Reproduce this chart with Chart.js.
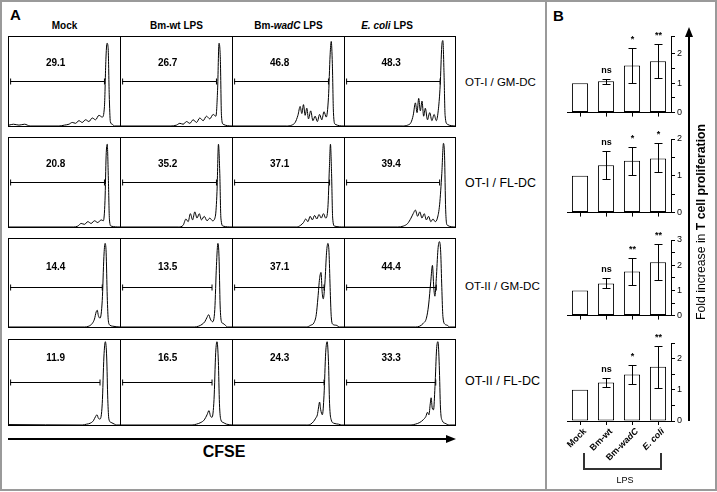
<!DOCTYPE html>
<html>
<head>
<meta charset="utf-8">
<script src="https://cdn.jsdelivr.net/npm/chart.js@4.4.0/dist/chart.umd.min.js"></script>
<style>
body { margin: 0; background: #fff; }
#fig { position: relative; width: 717px; height: 492px; font-family: Arial, "Liberation Sans", sans-serif; color: #000; overflow: hidden; background: #fff; }
#fig div, #fig canvas { position: absolute; }
.frame { left: 0; top: 0; width: 717px; height: 491px; border: 2px solid #9a9a9a; box-sizing: border-box; }
.divider { left: 545px; top: 0; width: 2px; height: 491px; background: #9a9a9a; }
.letter { font-weight: bold; font-size: 15px; }
.colhead { font-weight: bold; font-size: 10px; transform: translate(-50%, -50%); white-space: nowrap; }
.rowlab { font-size: 11px; transform: translateY(-50%); white-space: nowrap; }
.rowbox { border: 1px solid #000; box-sizing: border-box; }
.vsep { width: 1px; background: #000; }
</style>
</head>
<body>
<div id="fig">
  <div class="frame"></div>
  <div class="divider"></div>
  <div class="letter" style="left:10px;top:6px;">A</div>
  <div class="letter" style="left:553px;top:7px;">B</div>
</div>
<script>
// ---- panel A : CFSE histograms ----
const colLabels = ['Mock', 'Bm-wt LPS', 'Bm-<i>wadC</i> LPS', '<i>E. coli</i> LPS'];
const rowLabels = ['OT-I / GM-DC', 'OT-I / FL-DC', 'OT-II / GM-DC', 'OT-II / FL-DC'];

const gatePct = [
    [29.1, 26.7, 46.8, 48.3],
    [20.8, 35.2, 37.1, 39.4],
    [14.4, 13.5, 37.1, 44.4],
    [11.9, 16.5, 24.3, 33.3]
];
const gateEnd = [
    [86, 86, 86, 86.5],
    [86, 86, 87, 86],
    [84, 82, 82, 83],
    [82, 82, 82, 82.5]
];
const gateLevel = [0.51, 0.51, 0.45, 0.51];

// [CFSE position 0-100, relative count]
const histMock1 = [[0,0.01],[4,0.02],[9,0.01],[14,0.02],[19,0],[45,0],[50,0.01],[54,0.02],[57,0.04],[60,0.03],[63,0.06],[66,0.04],[69,0.07],[72,0.05],[75,0.09],[78,0.07],[81,0.12],[84,0.1],[86,0.22],[87.3,0.75],[88.3,0.93],[89.3,0.88],[90.3,0.35],[91.3,0.05],[93,0.02],[95,0],[100,0]];
const histWt1 = [[0,0],[45,0],[50,0.01],[53,0.03],[56,0.02],[59,0.05],[62,0.03],[65,0.07],[68,0.04],[71,0.09],[74,0.06],[77,0.11],[80,0.08],[83,0.13],[85.5,0.11],[87,0.4],[88.3,0.93],[89.5,0.75],[90.5,0.12],[92,0.02],[100,0]];
const histWadC1 = [[0,0],[48,0],[53,0.01],[56,0.04],[58.5,0.12],[60.5,0.22],[62,0.14],[63.5,0.24],[65,0.12],[66.5,0.2],[68,0.08],[70,0.17],[72,0.06],[74,0.11],[76,0.05],[78,0.13],[80,0.07],[82,0.16],[84,0.1],[86,0.32],[87.5,0.8],[88.5,0.95],[89.5,0.7],[90.5,0.15],[92,0.02],[100,0]];
const histEcoli1 = [[0,0],[52,0],[57,0.01],[60,0.04],[62,0.12],[64,0.26],[65.5,0.15],[67,0.31],[68.5,0.17],[70,0.28],[71.5,0.11],[73,0.2],[75,0.07],[77,0.15],[79,0.06],[81,0.13],[83,0.06],[85,0.2],[86.5,0.45],[88,0.9],[89,0.96],[90,0.6],[91,0.12],[93,0.02],[100,0]];

const histMock2 = [[0,0],[58,0],[62,0.01],[65,0.04],[68,0.03],[71,0.06],[74,0.04],[77,0.07],[80,0.05],[83,0.08],[85,0.07],[86.5,0.3],[87.5,0.8],[88.5,0.93],[89.5,0.55],[90.5,0.08],[92,0.01],[100,0]];
const histWt2 = [[0,0],[52,0],[56,0.02],[58.5,0.09],[60.5,0.06],[62.5,0.15],[64.5,0.08],[66.5,0.17],[68.5,0.1],[70.5,0.15],[72.5,0.08],[75,0.12],[77.5,0.07],[80,0.1],[82.5,0.07],[85,0.12],[86.5,0.4],[87.8,0.93],[89,0.6],[90,0.1],[92,0.01],[100,0]];
const histWadC2 = [[0,0],[57,0],[61,0.02],[63.5,0.05],[65.5,0.09],[67.5,0.06],[69.5,0.12],[71.5,0.08],[73.5,0.13],[75.5,0.09],[77.5,0.14],[79.5,0.1],[81.5,0.15],[83.5,0.1],[85.5,0.22],[86.8,0.65],[87.8,0.93],[88.8,0.6],[89.8,0.1],[91.5,0.01],[100,0]];
const histEcoli2 = [[0,0],[48,0],[53,0.01],[57,0.04],[60,0.1],[62,0.15],[64,0.19],[66,0.12],[68,0.17],[70,0.1],[72,0.15],[74,0.08],[76,0.12],[78,0.06],[80,0.09],[82,0.06],[84,0.1],[86,0.25],[88,0.6],[89.5,0.94],[90.5,0.8],[91.5,0.2],[93,0.02],[100,0]];

const histMock3 = [[0,0],[68,0],[72,0.01],[75,0.04],[77,0.09],[78.5,0.17],[79.5,0.19],[80.5,0.13],[82,0.1],[84,0.3],[85.5,0.8],[86.5,0.95],[87.5,0.85],[88.5,0.35],[89.5,0.07],[91,0.02],[93,0.01],[100,0]];
const histWt3 = [[0,0],[66,0],[70,0.01],[73,0.03],[75.5,0.06],[77.5,0.11],[79,0.14],[80.5,0.09],[82.5,0.06],[84.5,0.2],[86,0.7],[87.3,0.95],[88.3,0.8],[89.3,0.25],[90.5,0.06],[92,0.04],[94,0.02],[96,0],[100,0]];
const histWadC3 = [[0,0],[66,0],[70,0.02],[73,0.05],[75,0.14],[76.5,0.33],[78,0.55],[79.3,0.62],[80.3,0.4],[81.3,0.32],[82.8,0.5],[84.3,0.85],[85.5,0.95],[86.5,0.85],[87.5,0.45],[88.5,0.12],[90,0.03],[93,0.02],[96,0],[100,0]];
const histEcoli3 = [[0,0],[64,0],[68,0.01],[71,0.04],[74,0.1],[76,0.25],[78,0.52],[79.5,0.7],[80.7,0.45],[81.7,0.35],[83,0.55],[84.5,0.88],[85.8,0.97],[87,0.85],[88,0.45],[89,0.12],[91,0.03],[93,0.02],[95,0],[100,0]];

const histMock4 = [[0,0.005],[66,0],[70,0.01],[73,0.02],[76,0.05],[78,0.1],[79.3,0.12],[80.5,0.08],[82,0.07],[84,0.25],[85.5,0.8],[86.8,0.98],[88,0.8],[89,0.3],[90,0.07],[92,0.03],[95,0.01],[97,0],[100,0]];
const histWt4 = [[0,0],[64,0],[68,0.01],[72,0.03],[75,0.06],[77.5,0.12],[79.3,0.17],[80.5,0.11],[82,0.09],[83.8,0.3],[85.3,0.85],[86.5,0.98],[87.7,0.75],[88.7,0.25],[90,0.06],[92,0.03],[95,0.01],[100,0]];
const histWadC4 = [[0,0],[66,0],[70,0.01],[72.5,0.04],[74.5,0.08],[76,0.12],[77,0.2],[78,0.27],[79,0.18],[80.5,0.12],[82,0.35],[83.5,0.85],[84.8,0.98],[86,0.75],[87,0.25],[88.5,0.06],[91,0.02],[95,0.01],[98,0],[100,0]];
const histEcoli4 = [[0,0],[60,0],[64,0.01],[68,0.03],[71,0.06],[73.5,0.1],[75,0.15],[76.3,0.12],[77.5,0.25],[78.3,0.32],[79.3,0.2],[80.5,0.18],[81.8,0.45],[83.3,0.9],[84.5,0.98],[85.7,0.7],[86.8,0.2],[88.5,0.05],[91,0.02],[95,0],[100,0]];

const histRows = [
    [histMock1, histWt1, histWadC1, histEcoli1],
    [histMock2, histWt2, histWadC2, histEcoli2],
    [histMock3, histWt3, histWadC3, histEcoli3],
    [histMock4, histWt4, histWadC4, histEcoli4]
];

// ---- panel B : fold increase ----
const barCats = ['Mock', 'Bm-wt', 'Bm-wadC', 'E. coli'];
const foldOT1GM = [1.0, 1.06, 1.6, 1.74];
const errLoOT1GM = [null, 0.97, 1.0, 1.17];
const errHiOT1GM = [null, 1.15, 2.2, 2.32];
const sigOT1GM = ['', 'ns', '*', '**'];

const foldOT1FL = [1.0, 1.29, 1.41, 1.47];
const errLoOT1FL = [null, 0.9, 1.03, 1.11];
const errHiOT1FL = [null, 1.67, 1.78, 1.89];
const sigOT1FL = ['', 'ns', '*', '*'];

const foldOT2GM = [1.0, 1.27, 1.75, 2.12];
const errLoOT2GM = [null, 1.08, 1.23, 1.42];
const errHiOT2GM = [null, 1.48, 2.27, 2.83];
const sigOT2GM = ['', 'ns', '**', '**'];

const foldOT2FL = [1.0, 1.23, 1.49, 1.74];
const errLoOT2FL = [null, 1.1, 1.17, 1.07];
const errHiOT2FL = [null, 1.38, 1.8, 2.4];
const sigOT2FL = ['', 'ns', '*', '**'];

const yMaxB = [2.6, 2.0, 3.0, 2.5];

const fig = document.getElementById('fig');
const FONT = 'Arial, "Liberation Sans", sans-serif';

function addDiv(cls, style, html) {
    const d = document.createElement('div');
    if (cls) d.className = cls;
    d.style.cssText = style;
    if (html != null) d.innerHTML = html;
    fig.appendChild(d);
    return d;
}
function addCanvas(left, top, w, h) {
    const c = document.createElement('canvas');
    c.width = w; c.height = h;
    c.style.left = left + 'px'; c.style.top = top + 'px';
    c.style.width = w + 'px'; c.style.height = h + 'px';
    fig.appendChild(c);
    return c;
}
// scale the font so the text run is as long as in the figure
function fitText(el, target) {
    const fs = parseFloat(getComputedStyle(el).fontSize);
    el.style.fontSize = (fs * target / el.offsetWidth).toFixed(2) + 'px';
}

// grid geometry
const colX = [8, 120, 232, 344, 455];
const rowTop = [36, 137, 238, 339];
const rowBot = [126, 227, 327, 425];
const headX = [64.5, 176.5, 288.5, 387];
const labelLevel = [0.70, 0.71, 0.68, 0.79];
const rowLabY = [82, 183, 285, 381];

colLabels.forEach((t, i) => addDiv('colhead', `left:${headX[i]}px;top:25px;`, t));
rowLabels.forEach((t, i) => {
    const d = addDiv('rowlab', `left:465px;top:${rowLabY[i]}px;`, t);
    fitText(d, i < 2 ? 71 : 75);
});

// gate bar + percentage
const gatePlugin = {
    id: 'gate',
    afterDraw(chart, args, o) {
        const {ctx} = chart;
        const xs = chart.scales.x, ys = chart.scales.y;
        const y = Math.round(ys.getPixelForValue(o.level)) + 0.5;
        const x1 = xs.getPixelForValue(1), x2 = xs.getPixelForValue(o.end);
        ctx.save();
        ctx.strokeStyle = '#000';
        ctx.lineWidth = 1;
        ctx.beginPath();
        ctx.moveTo(x1, y); ctx.lineTo(x2, y);
        ctx.moveTo(x1 + 0.5, y - 3); ctx.lineTo(x1 + 0.5, y + 3);
        ctx.moveTo(x2, y - 3); ctx.lineTo(x2, y + 3);
        ctx.stroke();
        ctx.fillStyle = '#000';
        ctx.font = 'bold 10px ' + FONT;
        ctx.textAlign = 'center';
        ctx.textBaseline = 'middle';
        ctx.fillText(o.pct.toFixed(1), xs.getPixelForValue(42), ys.getPixelForValue(o.labelY));
        ctx.restore();
    }
};

histRows.forEach((row, r) => {
    addDiv('rowbox', `left:${colX[0]}px;top:${rowTop[r]}px;width:${colX[4] - colX[0] + 1}px;height:${rowBot[r] - rowTop[r] + 1}px;`);
    for (let c = 1; c < 4; c++) {
        addDiv('vsep', `left:${colX[c]}px;top:${rowTop[r]}px;height:${rowBot[r] - rowTop[r] + 1}px;`);
    }
    row.forEach((pts, c) => {
        const cv = addCanvas(colX[c] + 1, rowTop[r] + 1, colX[c + 1] - colX[c] - 1, rowBot[r] - rowTop[r] - 1);
        new Chart(cv, {
            type: 'line',
            data: {
                datasets: [{
                    data: pts.map(p => ({x: p[0], y: p[1]})),
                    borderColor: '#000',
                    borderWidth: 1,
                    pointRadius: 0,
                    fill: false,
                    cubicInterpolationMode: 'monotone'
                }]
            },
            options: {
                responsive: false,
                animation: false,
                layout: { padding: 0 },
                scales: {
                    x: { type: 'linear', min: 0, max: 100, display: false },
                    y: { min: 0, max: 1, display: false }
                },
                plugins: {
                    legend: { display: false },
                    tooltip: { enabled: false },
                    gate: { level: gateLevel[r], end: gateEnd[r][c], pct: gatePct[r][c], labelY: labelLevel[r] }
                }
            },
            plugins: [gatePlugin]
        });
    });
});

// CFSE arrow
addDiv('', 'left:8px;top:438px;width:440px;height:2px;background:#000;');
addDiv('', 'left:446px;top:435px;width:0;height:0;border-top:4px solid transparent;border-bottom:4px solid transparent;border-left:10px solid #000;');
addDiv('', `left:224px;top:452px;transform:translate(-50%,-50%);font-weight:bold;font-size:16px;`, 'CFSE');

// ---- bar charts ----
const errPlugin = {
    id: 'errbars',
    afterDatasetsDraw(chart, args, o) {
        const {ctx} = chart;
        const xs = chart.scales.x, ys = chart.scales.y;
        ctx.save();
        ctx.strokeStyle = '#000';
        ctx.fillStyle = '#000';
        ctx.lineWidth = 1;
        o.lo.forEach((lo, i) => {
            const cx = Math.round(xs.getPixelForValue(i)) + 0.5;
            if (lo != null) {
                const yl = Math.round(ys.getPixelForValue(lo)) + 0.5;
                const yh = Math.round(ys.getPixelForValue(o.hi[i])) + 0.5;
                ctx.beginPath();
                ctx.moveTo(cx, yl); ctx.lineTo(cx, yh);
                ctx.moveTo(cx - 4, yl); ctx.lineTo(cx + 4, yl);
                ctx.moveTo(cx - 4, yh); ctx.lineTo(cx + 4, yh);
                ctx.stroke();
            }
            if (o.sig[i]) {
                const top = ys.getPixelForValue(o.hi[i] != null ? o.hi[i] : chart.data.datasets[0].data[i]);
                ctx.font = 'bold 9px ' + FONT;
                ctx.textAlign = 'center';
                ctx.textBaseline = 'bottom';
                ctx.fillText(o.sig[i], cx, top - 4);
            }
        });
        if (o.xLabels) {
            const y0 = ys.getPixelForValue(0);
            chart.data.labels.forEach((lab, i) => {
                const parts = lab === 'Bm-wadC' ? [['Bm-', false], ['wadC', true]]
                    : lab === 'E. coli' ? [['E. coli', true]] : [[lab, false]];
                const cx = xs.getPixelForValue(i);
                ctx.save();
                ctx.translate(cx + 5, y0 + 9);
                ctx.rotate(-Math.PI / 4);
                ctx.textBaseline = 'middle';
                ctx.textAlign = 'left';
                let w = 0;
                parts.forEach(p => { ctx.font = (p[1] ? 'italic ' : '') + 'bold 9px ' + FONT; w += ctx.measureText(p[0]).width; });
                let x = -w;
                parts.forEach(p => {
                    ctx.font = (p[1] ? 'italic ' : '') + 'bold 9px ' + FONT;
                    ctx.fillText(p[0], x, 0);
                    x += ctx.measureText(p[0]).width;
                });
                ctx.restore();
            });
        }
        ctx.restore();
    }
};

function makeBar(top, height, vals, lo, hi, sig, ymax, xLabels) {
    const cv = addCanvas(555, top, 132, height);
    new Chart(cv, {
        type: 'bar',
        data: {
            labels: barCats,
            datasets: [{
                data: vals,
                backgroundColor: '#fff',
                borderColor: '#000',
                borderWidth: 1,
                borderSkipped: false,
                barPercentage: 0.62,
                categoryPercentage: 1
            }]
        },
        options: {
            responsive: false,
            animation: false,
            layout: { padding: { top: 14, left: 12, right: 0, bottom: 0 } },
            scales: {
                x: {
                    offset: true,
                    grid: { offset: false, drawOnChartArea: false, drawTicks: true, tickLength: 4, color: '#000' },
                    border: { color: '#000' },
                    ticks: { display: false },
                    afterFit: s => { s.height = xLabels ? 64 : 5; }
                },
                y: {
                    position: 'right',
                    min: 0,
                    max: ymax,
                    grid: { drawOnChartArea: false, drawTicks: true, tickLength: 4, color: '#000' },
                    border: { color: '#000' },
                    ticks: {
                        stepSize: 0.5,
                        padding: 2,
                        color: '#000',
                        font: { size: 9, family: FONT },
                        callback: v => Number.isInteger(v) ? String(v) : ''
                    },
                    afterFit: s => { s.width = 16; }
                }
            },
            plugins: {
                legend: { display: false },
                tooltip: { enabled: false },
                errbars: { lo, hi, sig, xLabels }
            }
        },
        plugins: [errPlugin]
    });
}

makeBar(22, 98, foldOT1GM, errLoOT1GM, errHiOT1GM, sigOT1GM, yMaxB[0], false);
makeBar(125, 95, foldOT1FL, errLoOT1FL, errHiOT1FL, sigOT1FL, yMaxB[1], false);
makeBar(226, 97, foldOT2GM, errLoOT2GM, errHiOT2GM, sigOT2GM, yMaxB[2], false);
makeBar(329, 156, foldOT2FL, errLoOT2FL, errHiOT2FL, sigOT2FL, yMaxB[3], true);

// LPS bracket
addDiv('', 'left:583px;top:453px;width:79px;height:17px;border:2px solid #333;border-top:none;box-sizing:border-box;');
addDiv('', 'left:625px;top:480px;transform:translate(-50%,-50%);font-size:9px;', 'LPS');

// y title with arrow
addDiv('', 'left:688px;top:36px;width:2px;height:385px;background:#000;');
addDiv('', 'left:685px;top:27px;width:0;height:0;border-left:4px solid transparent;border-right:4px solid transparent;border-bottom:10px solid #000;');
const yTitle = addDiv('', 'left:701px;top:222px;transform:translate(-50%,-50%) rotate(-90deg);font-size:12px;white-space:nowrap;',
    'Fold increase in <b>T cell proliferation</b>');
fitText(yTitle, 196);
</script>
</body>
</html>
